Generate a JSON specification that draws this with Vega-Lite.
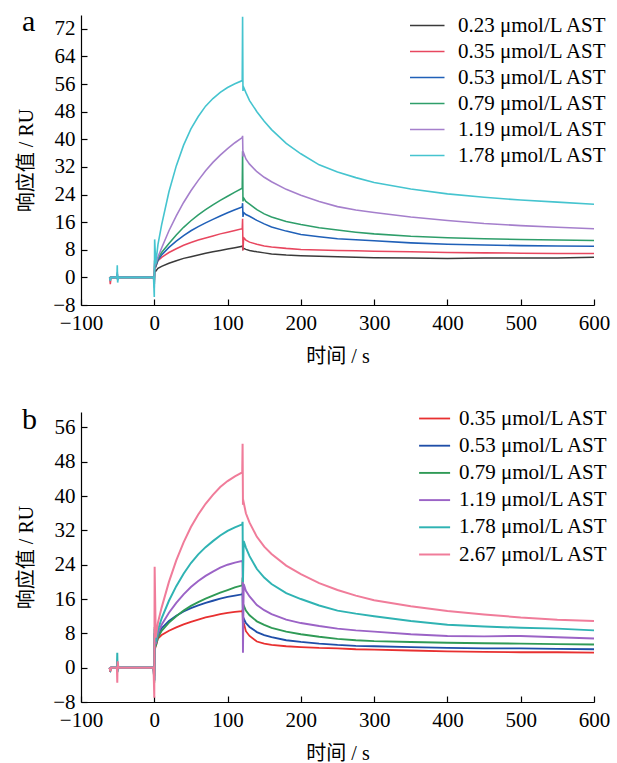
{
  "$schema": "https://vega.github.io/schema/vega-lite/v6.json",
  "autosize": {"type": "pad"},
  "padding": {"left": 16, "top": 6, "right": 5, "bottom": 5},
  "background": "white",
  "datasets": {
    "a": [
      {"c":"0.23","t":-61,"v":0},{"c":"0.23","t":-60,"v":0},{"c":"0.23","t":-59,"v":0},{"c":"0.23","t":-51,"v":0},{"c":"0.23","t":-50.5,"v":0.5},{"c":"0.23","t":-50,"v":-0.3},{"c":"0.23","t":-49,"v":0},{"c":"0.23","t":-1,"v":0},{"c":"0.23","t":0,"v":-1},{"c":"0.23","t":0.5,"v":2},
      {"c":"0.23","t":2,"v":1.8},{"c":"0.23","t":5,"v":2.6},{"c":"0.23","t":10,"v":3.2},{"c":"0.23","t":20,"v":4.1},{"c":"0.23","t":30,"v":4.8},{"c":"0.23","t":40,"v":5.5},{"c":"0.23","t":50,"v":6.0},{"c":"0.23","t":60,"v":6.5},{"c":"0.23","t":70,"v":7.0},{"c":"0.23","t":80,"v":7.4},{"c":"0.23","t":90,"v":7.8},{"c":"0.23","t":100,"v":8.2},{"c":"0.23","t":110,"v":8.6},{"c":"0.23","t":120,"v":9.0},{"c":"0.23","t":120.5,"v":9.3},{"c":"0.23","t":121,"v":8.2},
      {"c":"0.23","t":122,"v":8.4},{"c":"0.23","t":125,"v":8.1},{"c":"0.23","t":130,"v":7.8},{"c":"0.23","t":140,"v":7.4},{"c":"0.23","t":150,"v":7.1},{"c":"0.23","t":160,"v":6.8},{"c":"0.23","t":180,"v":6.5},{"c":"0.23","t":200,"v":6.3},{"c":"0.23","t":225,"v":6.1},{"c":"0.23","t":250,"v":6.0},{"c":"0.23","t":275,"v":5.8},{"c":"0.23","t":300,"v":5.7},{"c":"0.23","t":350,"v":5.6},{"c":"0.23","t":400,"v":5.5},{"c":"0.23","t":450,"v":5.6},{"c":"0.23","t":500,"v":5.6},{"c":"0.23","t":550,"v":5.6},{"c":"0.23","t":600,"v":5.8},

      {"c":"0.35","t":-61,"v":0},{"c":"0.35","t":-60,"v":-2},{"c":"0.35","t":-59,"v":0},{"c":"0.35","t":-51,"v":0},{"c":"0.35","t":-50.5,"v":0.5},{"c":"0.35","t":-50,"v":-0.5},{"c":"0.35","t":-49,"v":0},{"c":"0.35","t":-1,"v":0},{"c":"0.35","t":0,"v":-1.5},{"c":"0.35","t":0.5,"v":3},
      {"c":"0.35","t":2,"v":3},{"c":"0.35","t":5,"v":4.8},{"c":"0.35","t":10,"v":5.8},{"c":"0.35","t":20,"v":7.2},{"c":"0.35","t":30,"v":8.3},{"c":"0.35","t":40,"v":9.3},{"c":"0.35","t":50,"v":10.1},{"c":"0.35","t":60,"v":10.8},{"c":"0.35","t":70,"v":11.4},{"c":"0.35","t":80,"v":12},{"c":"0.35","t":90,"v":12.6},{"c":"0.35","t":100,"v":13.1},{"c":"0.35","t":110,"v":13.6},{"c":"0.35","t":120,"v":14.1},{"c":"0.35","t":120.5,"v":17},{"c":"0.35","t":121,"v":7.8},
      {"c":"0.35","t":122,"v":11.5},{"c":"0.35","t":125,"v":10.8},{"c":"0.35","t":130,"v":10.2},{"c":"0.35","t":140,"v":9.6},{"c":"0.35","t":150,"v":9.1},{"c":"0.35","t":160,"v":8.8},{"c":"0.35","t":180,"v":8.4},{"c":"0.35","t":200,"v":8.1},{"c":"0.35","t":225,"v":7.9},{"c":"0.35","t":250,"v":7.8},{"c":"0.35","t":275,"v":7.7},{"c":"0.35","t":300,"v":7.6},{"c":"0.35","t":350,"v":7.4},{"c":"0.35","t":400,"v":7.2},{"c":"0.35","t":450,"v":7.1},{"c":"0.35","t":500,"v":7.0},{"c":"0.35","t":550,"v":6.9},{"c":"0.35","t":600,"v":6.9},

      {"c":"0.53","t":-61,"v":0},{"c":"0.53","t":-60,"v":-0.5},{"c":"0.53","t":-59,"v":0},{"c":"0.53","t":-51,"v":0},{"c":"0.53","t":-50.5,"v":1},{"c":"0.53","t":-50,"v":-0.5},{"c":"0.53","t":-49,"v":0},{"c":"0.53","t":-1,"v":0},{"c":"0.53","t":0,"v":-2},{"c":"0.53","t":0.5,"v":3.5},
      {"c":"0.53","t":2,"v":3.2},{"c":"0.53","t":5,"v":5},{"c":"0.53","t":10,"v":6.5},{"c":"0.53","t":20,"v":8.7},{"c":"0.53","t":30,"v":10.5},{"c":"0.53","t":40,"v":12.1},{"c":"0.53","t":50,"v":13.5},{"c":"0.53","t":60,"v":14.7},{"c":"0.53","t":70,"v":15.8},{"c":"0.53","t":80,"v":16.8},{"c":"0.53","t":90,"v":17.8},{"c":"0.53","t":100,"v":18.7},{"c":"0.53","t":110,"v":19.6},{"c":"0.53","t":120,"v":20.4},{"c":"0.53","t":120.5,"v":21.5},{"c":"0.53","t":121,"v":17.5},
      {"c":"0.53","t":122,"v":18.8},{"c":"0.53","t":125,"v":18.2},{"c":"0.53","t":130,"v":17.7},{"c":"0.53","t":140,"v":16.5},{"c":"0.53","t":150,"v":15.5},{"c":"0.53","t":160,"v":14.6},{"c":"0.53","t":180,"v":13.4},{"c":"0.53","t":200,"v":12.4},{"c":"0.53","t":225,"v":11.8},{"c":"0.53","t":250,"v":11.2},{"c":"0.53","t":275,"v":10.9},{"c":"0.53","t":300,"v":10.6},{"c":"0.53","t":350,"v":10},{"c":"0.53","t":400,"v":9.6},{"c":"0.53","t":450,"v":9.4},{"c":"0.53","t":500,"v":9.2},{"c":"0.53","t":550,"v":9.1},{"c":"0.53","t":600,"v":9.0},

      {"c":"0.79","t":-61,"v":0},{"c":"0.79","t":-60,"v":-0.5},{"c":"0.79","t":-59,"v":0},{"c":"0.79","t":-51,"v":0},{"c":"0.79","t":-50.5,"v":1},{"c":"0.79","t":-50,"v":-0.5},{"c":"0.79","t":-49,"v":0},{"c":"0.79","t":-1,"v":0},{"c":"0.79","t":0,"v":-2},{"c":"0.79","t":0.5,"v":4},
      {"c":"0.79","t":2,"v":3.5},{"c":"0.79","t":5,"v":5.5},{"c":"0.79","t":10,"v":7.2},{"c":"0.79","t":20,"v":9.8},{"c":"0.79","t":30,"v":12.3},{"c":"0.79","t":40,"v":14.5},{"c":"0.79","t":50,"v":16.4},{"c":"0.79","t":60,"v":18.1},{"c":"0.79","t":70,"v":19.6},{"c":"0.79","t":80,"v":21},{"c":"0.79","t":90,"v":22.3},{"c":"0.79","t":100,"v":23.5},{"c":"0.79","t":110,"v":24.7},{"c":"0.79","t":120,"v":25.8},{"c":"0.79","t":120.5,"v":36.5},{"c":"0.79","t":121,"v":22},
      {"c":"0.79","t":122,"v":23},{"c":"0.79","t":125,"v":22},{"c":"0.79","t":130,"v":21.2},{"c":"0.79","t":140,"v":19.6},{"c":"0.79","t":150,"v":18.4},{"c":"0.79","t":160,"v":17.5},{"c":"0.79","t":180,"v":16.2},{"c":"0.79","t":200,"v":15.3},{"c":"0.79","t":225,"v":14.4},{"c":"0.79","t":250,"v":13.7},{"c":"0.79","t":275,"v":13.1},{"c":"0.79","t":300,"v":12.6},{"c":"0.79","t":350,"v":11.9},{"c":"0.79","t":400,"v":11.5},{"c":"0.79","t":450,"v":11.2},{"c":"0.79","t":500,"v":11},{"c":"0.79","t":550,"v":10.8},{"c":"0.79","t":600,"v":10.7},

      {"c":"1.19","t":-61,"v":0},{"c":"1.19","t":-60,"v":-0.5},{"c":"1.19","t":-59,"v":0},{"c":"1.19","t":-51,"v":0},{"c":"1.19","t":-50.5,"v":1.5},{"c":"1.19","t":-50,"v":-0.8},{"c":"1.19","t":-49,"v":0},{"c":"1.19","t":-1,"v":0},{"c":"1.19","t":0,"v":-3},{"c":"1.19","t":0.5,"v":5},
      {"c":"1.19","t":2,"v":4},{"c":"1.19","t":5,"v":5.9},{"c":"1.19","t":10,"v":8.5},{"c":"1.19","t":20,"v":13.5},{"c":"1.19","t":30,"v":17.8},{"c":"1.19","t":40,"v":21.7},{"c":"1.19","t":50,"v":25.1},{"c":"1.19","t":60,"v":28.1},{"c":"1.19","t":70,"v":30.9},{"c":"1.19","t":80,"v":33.3},{"c":"1.19","t":90,"v":35.4},{"c":"1.19","t":100,"v":37.3},{"c":"1.19","t":110,"v":39},{"c":"1.19","t":120,"v":40.5},{"c":"1.19","t":120.5,"v":41},{"c":"1.19","t":121,"v":35},
      {"c":"1.19","t":122,"v":36},{"c":"1.19","t":125,"v":34.3},{"c":"1.19","t":130,"v":32.8},{"c":"1.19","t":140,"v":30.6},{"c":"1.19","t":150,"v":29},{"c":"1.19","t":160,"v":27.7},{"c":"1.19","t":180,"v":25.5},{"c":"1.19","t":200,"v":23.8},{"c":"1.19","t":225,"v":22},{"c":"1.19","t":250,"v":20.5},{"c":"1.19","t":275,"v":19.5},{"c":"1.19","t":300,"v":18.8},{"c":"1.19","t":350,"v":17.5},{"c":"1.19","t":400,"v":16.5},{"c":"1.19","t":450,"v":15.6},{"c":"1.19","t":500,"v":15},{"c":"1.19","t":550,"v":14.5},{"c":"1.19","t":600,"v":14.1},

      {"c":"1.78","t":-61,"v":0},{"c":"1.78","t":-60,"v":-1},{"c":"1.78","t":-59,"v":0},{"c":"1.78","t":-51,"v":0},{"c":"1.78","t":-50.5,"v":3.5},{"c":"1.78","t":-50,"v":-1.5},{"c":"1.78","t":-49,"v":0},{"c":"1.78","t":-1,"v":0},{"c":"1.78","t":0,"v":-5.7},{"c":"1.78","t":0.5,"v":11},
      {"c":"1.78","t":2,"v":4},{"c":"1.78","t":5,"v":9.5},{"c":"1.78","t":10,"v":15.2},{"c":"1.78","t":20,"v":24.8},{"c":"1.78","t":30,"v":32.3},{"c":"1.78","t":40,"v":38.3},{"c":"1.78","t":50,"v":43},{"c":"1.78","t":60,"v":46.6},{"c":"1.78","t":70,"v":49.6},{"c":"1.78","t":80,"v":51.8},{"c":"1.78","t":90,"v":53.6},{"c":"1.78","t":100,"v":55},{"c":"1.78","t":110,"v":56.1},{"c":"1.78","t":120,"v":57},{"c":"1.78","t":120.5,"v":75.5},{"c":"1.78","t":121,"v":54},
      {"c":"1.78","t":122,"v":55},{"c":"1.78","t":125,"v":53.5},{"c":"1.78","t":130,"v":51.2},{"c":"1.78","t":140,"v":48},{"c":"1.78","t":150,"v":45.2},{"c":"1.78","t":160,"v":42.8},{"c":"1.78","t":180,"v":38.8},{"c":"1.78","t":200,"v":35.8},{"c":"1.78","t":225,"v":32.6},{"c":"1.78","t":250,"v":30.5},{"c":"1.78","t":275,"v":28.9},{"c":"1.78","t":300,"v":27.5},{"c":"1.78","t":350,"v":25.6},{"c":"1.78","t":400,"v":24.2},{"c":"1.78","t":450,"v":23.2},{"c":"1.78","t":500,"v":22.4},{"c":"1.78","t":550,"v":21.8},{"c":"1.78","t":600,"v":21.2}
    ],
    "b": [
      {"c":"0.35","t":-61,"v":0},{"c":"0.35","t":-60,"v":-1},{"c":"0.35","t":-59,"v":0},{"c":"0.35","t":-51,"v":0},{"c":"0.35","t":-50.5,"v":0.5},{"c":"0.35","t":-50,"v":-0.5},{"c":"0.35","t":-49,"v":0},{"c":"0.35","t":-1,"v":0},{"c":"0.35","t":0,"v":-2},{"c":"0.35","t":0.5,"v":6},
      {"c":"0.35","t":2,"v":5},{"c":"0.35","t":5,"v":6.8},{"c":"0.35","t":10,"v":7.6},{"c":"0.35","t":20,"v":8.6},{"c":"0.35","t":30,"v":9.4},{"c":"0.35","t":40,"v":10.1},{"c":"0.35","t":50,"v":10.7},{"c":"0.35","t":60,"v":11.2},{"c":"0.35","t":70,"v":11.7},{"c":"0.35","t":80,"v":12.1},{"c":"0.35","t":90,"v":12.5},{"c":"0.35","t":100,"v":12.8},{"c":"0.35","t":110,"v":13.0},{"c":"0.35","t":120,"v":13.2},{"c":"0.35","t":120.5,"v":13.5},{"c":"0.35","t":121,"v":9.5},
      {"c":"0.35","t":122,"v":10.5},{"c":"0.35","t":125,"v":8.5},{"c":"0.35","t":130,"v":7.4},{"c":"0.35","t":140,"v":6.1},{"c":"0.35","t":150,"v":5.6},{"c":"0.35","t":160,"v":5.3},{"c":"0.35","t":180,"v":5.0},{"c":"0.35","t":200,"v":4.8},{"c":"0.35","t":225,"v":4.6},{"c":"0.35","t":250,"v":4.5},{"c":"0.35","t":275,"v":4.3},{"c":"0.35","t":300,"v":4.2},{"c":"0.35","t":350,"v":4.0},{"c":"0.35","t":400,"v":3.8},{"c":"0.35","t":450,"v":3.7},{"c":"0.35","t":500,"v":3.6},{"c":"0.35","t":550,"v":3.6},{"c":"0.35","t":600,"v":3.5},

      {"c":"0.53","t":-61,"v":0},{"c":"0.53","t":-60,"v":-0.5},{"c":"0.53","t":-59,"v":0},{"c":"0.53","t":-51,"v":0},{"c":"0.53","t":-50.5,"v":1},{"c":"0.53","t":-50,"v":-0.5},{"c":"0.53","t":-49,"v":0},{"c":"0.53","t":-1,"v":0},{"c":"0.53","t":0,"v":-3},{"c":"0.53","t":0.5,"v":8},
      {"c":"0.53","t":2,"v":5.5},{"c":"0.53","t":5,"v":7.8},{"c":"0.53","t":10,"v":9.2},{"c":"0.53","t":20,"v":10.9},{"c":"0.53","t":30,"v":12.1},{"c":"0.53","t":40,"v":13.1},{"c":"0.53","t":50,"v":13.9},{"c":"0.53","t":60,"v":14.5},{"c":"0.53","t":70,"v":15.1},{"c":"0.53","t":80,"v":15.6},{"c":"0.53","t":90,"v":16.1},{"c":"0.53","t":100,"v":16.5},{"c":"0.53","t":110,"v":16.8},{"c":"0.53","t":120,"v":17.1},{"c":"0.53","t":120.5,"v":17.5},{"c":"0.53","t":121,"v":10},
      {"c":"0.53","t":122,"v":11.5},{"c":"0.53","t":125,"v":10.4},{"c":"0.53","t":130,"v":9.5},{"c":"0.53","t":140,"v":8.3},{"c":"0.53","t":150,"v":7.6},{"c":"0.53","t":160,"v":7.1},{"c":"0.53","t":180,"v":6.4},{"c":"0.53","t":200,"v":6},{"c":"0.53","t":225,"v":5.6},{"c":"0.53","t":250,"v":5.3},{"c":"0.53","t":275,"v":5.1},{"c":"0.53","t":300,"v":5},{"c":"0.53","t":350,"v":4.8},{"c":"0.53","t":400,"v":4.6},{"c":"0.53","t":450,"v":4.5},{"c":"0.53","t":500,"v":4.5},{"c":"0.53","t":550,"v":4.4},{"c":"0.53","t":600,"v":4.3},

      {"c":"0.79","t":-61,"v":0},{"c":"0.79","t":-60,"v":-0.5},{"c":"0.79","t":-59,"v":0},{"c":"0.79","t":-51,"v":0},{"c":"0.79","t":-50.5,"v":1.5},{"c":"0.79","t":-50,"v":-0.5},{"c":"0.79","t":-49,"v":0},{"c":"0.79","t":-1,"v":0},{"c":"0.79","t":0,"v":-3.5},{"c":"0.79","t":0.5,"v":9.5},
      {"c":"0.79","t":2,"v":5},{"c":"0.79","t":5,"v":7},{"c":"0.79","t":10,"v":8.6},{"c":"0.79","t":20,"v":10.5},{"c":"0.79","t":30,"v":12},{"c":"0.79","t":40,"v":13.3},{"c":"0.79","t":50,"v":14.4},{"c":"0.79","t":60,"v":15.3},{"c":"0.79","t":70,"v":16.1},{"c":"0.79","t":80,"v":16.8},{"c":"0.79","t":90,"v":17.5},{"c":"0.79","t":100,"v":18.1},{"c":"0.79","t":110,"v":18.7},{"c":"0.79","t":120,"v":19.2},{"c":"0.79","t":120.5,"v":21},{"c":"0.79","t":121,"v":13},
      {"c":"0.79","t":122,"v":14.5},{"c":"0.79","t":125,"v":13.3},{"c":"0.79","t":130,"v":12.2},{"c":"0.79","t":140,"v":10.8},{"c":"0.79","t":150,"v":10},{"c":"0.79","t":160,"v":9.3},{"c":"0.79","t":180,"v":8.4},{"c":"0.79","t":200,"v":7.8},{"c":"0.79","t":225,"v":7.2},{"c":"0.79","t":250,"v":6.7},{"c":"0.79","t":275,"v":6.4},{"c":"0.79","t":300,"v":6.2},{"c":"0.79","t":350,"v":6},{"c":"0.79","t":400,"v":5.8},{"c":"0.79","t":450,"v":5.7},{"c":"0.79","t":500,"v":5.6},{"c":"0.79","t":550,"v":5.5},{"c":"0.79","t":600,"v":5.4},

      {"c":"1.19","t":-61,"v":0},{"c":"1.19","t":-60,"v":-0.5},{"c":"1.19","t":-59,"v":0},{"c":"1.19","t":-51,"v":0},{"c":"1.19","t":-50.5,"v":1},{"c":"1.19","t":-50,"v":-0.5},{"c":"1.19","t":-49,"v":0},{"c":"1.19","t":-1,"v":0},{"c":"1.19","t":0,"v":-3},{"c":"1.19","t":0.5,"v":8},
      {"c":"1.19","t":2,"v":5.5},{"c":"1.19","t":5,"v":8},{"c":"1.19","t":10,"v":10},{"c":"1.19","t":20,"v":12.8},{"c":"1.19","t":30,"v":15.1},{"c":"1.19","t":40,"v":17.1},{"c":"1.19","t":50,"v":18.8},{"c":"1.19","t":60,"v":20.2},{"c":"1.19","t":70,"v":21.4},{"c":"1.19","t":80,"v":22.4},{"c":"1.19","t":90,"v":23.3},{"c":"1.19","t":100,"v":24},{"c":"1.19","t":110,"v":24.5},{"c":"1.19","t":120,"v":24.9},{"c":"1.19","t":120.5,"v":25},{"c":"1.19","t":121,"v":3.5},
      {"c":"1.19","t":122,"v":19.5},{"c":"1.19","t":125,"v":17.9},{"c":"1.19","t":130,"v":16.6},{"c":"1.19","t":140,"v":14.6},{"c":"1.19","t":150,"v":13.4},{"c":"1.19","t":160,"v":12.5},{"c":"1.19","t":180,"v":11.2},{"c":"1.19","t":200,"v":10.4},{"c":"1.19","t":225,"v":9.7},{"c":"1.19","t":250,"v":9.1},{"c":"1.19","t":275,"v":8.7},{"c":"1.19","t":300,"v":8.4},{"c":"1.19","t":350,"v":7.8},{"c":"1.19","t":400,"v":7.4},{"c":"1.19","t":450,"v":7.3},{"c":"1.19","t":500,"v":7.4},{"c":"1.19","t":550,"v":7.1},{"c":"1.19","t":600,"v":6.8},

      {"c":"1.78","t":-61,"v":0},{"c":"1.78","t":-60,"v":-0.5},{"c":"1.78","t":-59,"v":0},{"c":"1.78","t":-51,"v":0},{"c":"1.78","t":-50.5,"v":3.5},{"c":"1.78","t":-50,"v":-1},{"c":"1.78","t":-49,"v":0},{"c":"1.78","t":-1,"v":0},{"c":"1.78","t":0,"v":-3},{"c":"1.78","t":0.5,"v":9},
      {"c":"1.78","t":2,"v":6},{"c":"1.78","t":5,"v":8.8},{"c":"1.78","t":10,"v":11.5},{"c":"1.78","t":20,"v":15.6},{"c":"1.78","t":30,"v":19},{"c":"1.78","t":40,"v":21.9},{"c":"1.78","t":50,"v":24.4},{"c":"1.78","t":60,"v":26.4},{"c":"1.78","t":70,"v":28.1},{"c":"1.78","t":80,"v":29.5},{"c":"1.78","t":90,"v":30.8},{"c":"1.78","t":100,"v":31.9},{"c":"1.78","t":110,"v":32.7},{"c":"1.78","t":120,"v":33.4},{"c":"1.78","t":120.5,"v":34},{"c":"1.78","t":121,"v":20},
      {"c":"1.78","t":122,"v":29.5},{"c":"1.78","t":125,"v":28},{"c":"1.78","t":130,"v":26},{"c":"1.78","t":140,"v":23},{"c":"1.78","t":150,"v":21},{"c":"1.78","t":160,"v":19.5},{"c":"1.78","t":180,"v":17.4},{"c":"1.78","t":200,"v":16},{"c":"1.78","t":225,"v":14.5},{"c":"1.78","t":250,"v":13.3},{"c":"1.78","t":275,"v":12.6},{"c":"1.78","t":300,"v":12},{"c":"1.78","t":350,"v":10.9},{"c":"1.78","t":400,"v":10},{"c":"1.78","t":450,"v":9.6},{"c":"1.78","t":500,"v":9.3},{"c":"1.78","t":550,"v":9.1},{"c":"1.78","t":600,"v":8.7},

      {"c":"2.67","t":-61,"v":0},{"c":"2.67","t":-60,"v":-0.8},{"c":"2.67","t":-59,"v":0},{"c":"2.67","t":-51,"v":0},{"c":"2.67","t":-50.5,"v":-3.5},{"c":"2.67","t":-50,"v":1.5},{"c":"2.67","t":-49,"v":0},{"c":"2.67","t":-1,"v":0},{"c":"2.67","t":0,"v":-7},{"c":"2.67","t":0.5,"v":23.5},
      {"c":"2.67","t":2,"v":7},{"c":"2.67","t":5,"v":10.5},{"c":"2.67","t":10,"v":14},{"c":"2.67","t":20,"v":20},{"c":"2.67","t":30,"v":25},{"c":"2.67","t":40,"v":29.2},{"c":"2.67","t":50,"v":32.8},{"c":"2.67","t":60,"v":35.7},{"c":"2.67","t":70,"v":38.2},{"c":"2.67","t":80,"v":40.3},{"c":"2.67","t":90,"v":42.1},{"c":"2.67","t":100,"v":43.5},{"c":"2.67","t":110,"v":44.6},{"c":"2.67","t":120,"v":45.5},{"c":"2.67","t":120.5,"v":52.2},{"c":"2.67","t":121,"v":38},
      {"c":"2.67","t":122,"v":38.5},{"c":"2.67","t":125,"v":36},{"c":"2.67","t":130,"v":33.8},{"c":"2.67","t":140,"v":30.5},{"c":"2.67","t":150,"v":28.2},{"c":"2.67","t":160,"v":26.5},{"c":"2.67","t":180,"v":23.8},{"c":"2.67","t":200,"v":21.8},{"c":"2.67","t":225,"v":19.7},{"c":"2.67","t":250,"v":18.1},{"c":"2.67","t":275,"v":16.8},{"c":"2.67","t":300,"v":15.7},{"c":"2.67","t":350,"v":14.3},{"c":"2.67","t":400,"v":13.2},{"c":"2.67","t":450,"v":12.4},{"c":"2.67","t":500,"v":11.7},{"c":"2.67","t":550,"v":11.2},{"c":"2.67","t":600,"v":10.9}
    ]
  },
  "vconcat": [
    {
      "width": 513,
      "height": 290,
      "title": {"text": "a", "anchor": "start", "frame": "group", "orient": "top", "dx": -59, "dy": 47, "offset": 0, "baseline": "alphabetic", "fontSize": 30, "font": "Liberation Serif", "fontWeight": "normal", "color": "#000"},
      "data": {"name": "a"},
      "mark": {"type": "line", "clip": false},
      "encoding": {
        "x": {"field": "t", "type": "quantitative", "scale": {"domain": [-100, 600], "nice": false, "zero": false}, "axis": {"values": [-100, 0, 100, 200, 300, 400, 500, 600], "title": "时间 / s"}},
        "y": {"field": "v", "type": "quantitative", "scale": {"domain": [-8, 76], "nice": false, "zero": false}, "axis": {"values": [-8, 0, 8, 16, 24, 32, 40, 48, 56, 64, 72], "title": "响应值 / RU"}},
        "color": {"field": "c", "type": "nominal", "scale": {"domain": ["0.23", "0.35", "0.53", "0.79", "1.19", "1.78"], "range": ["#3a3a3a", "#e8475f", "#2060b8", "#2e9e6a", "#a57fcc", "#45c4cf"]}, "legend": {"orient": "none", "legendX": 348, "legendY": 0, "rowPadding": 4, "labelExpr": "datum.label + ' μmol/L AST'", "symbolType": "M-5.9,0H1"}},
        "strokeWidth": {"field": "c", "type": "nominal", "scale": {"domain": ["0.23", "0.35", "0.53", "0.79", "1.19", "1.78"], "range": [1.5, 1.6, 1.8, 1.6, 1.5, 2.4]}, "legend": null}
      }
    },
    {
      "width": 513,
      "height": 290,
      "title": {"text": "b", "anchor": "start", "frame": "group", "orient": "top", "dx": -59, "dy": 51, "offset": 0, "baseline": "alphabetic", "fontSize": 30, "font": "Liberation Serif", "fontWeight": "normal", "color": "#000"},
      "data": {"name": "b"},
      "mark": {"type": "line", "clip": false},
      "encoding": {
        "x": {"field": "t", "type": "quantitative", "scale": {"domain": [-100, 600], "nice": false, "zero": false}, "axis": {"values": [-100, 0, 100, 200, 300, 400, 500, 600], "title": "时间 / s"}},
        "y": {"field": "v", "type": "quantitative", "scale": {"domain": [-8, 59.6], "nice": false, "zero": false}, "axis": {"values": [-8, 0, 8, 16, 24, 32, 40, 48, 56], "title": "响应值 / RU"}},
        "color": {"field": "c", "type": "nominal", "scale": {"domain": ["0.35", "0.53", "0.79", "1.19", "1.78", "2.67"], "range": ["#e83030", "#1f4ea8", "#2f9a56", "#9b63c6", "#2fb3b3", "#f07c9a"]}, "legend": {"orient": "none", "legendX": 349, "legendY": -4, "rowPadding": 5.2, "labelExpr": "datum.label + ' μmol/L AST'", "symbolType": "M-4.28,0H1.92", "symbolStrokeWidth": 2}},
        "strokeWidth": {"field": "c", "type": "nominal", "scale": {"domain": ["0.35", "0.53", "0.79", "1.19", "1.78", "2.67"], "range": [1.8, 2, 1.5, 1.3, 2.4, 1.1]}, "legend": null}
      }
    }
  ],
  "spacing": 107,
  "bounds": "flush",
  "resolve": {"scale": {"color": "independent", "strokeWidth": "independent"}, "legend": {"color": "independent"}},
  "config": {
    "font": "Liberation Serif",
    "view": {"stroke": null},
    "axis": {
      "grid": false,
      "domainColor": "#000",
      "domainWidth": 1.2,
      "tickColor": "#000",
      "tickWidth": 1.2,
      "tickSize": -6,
      "labelColor": "#000",
      "labelFont": "Liberation Serif",
      "labelFontSize": 21,
      "labelOverlap": false,
      "labelFlush": false,
      "titleColor": "#000",
      "titleFont": "Liberation Serif, Noto Sans CJK SC",
      "titleFontSize": 20,
      "titleFontWeight": "normal"
    },
    "axisX": {"titlePadding": 13, "labelPadding": 13},
    "axisY": {"titlePadding": 16, "labelPadding": 12},
    "legend": {
      "symbolSize": 100,
      "symbolStrokeWidth": 1.6,
      "labelFont": "Liberation Serif",
      "labelFontSize": 21,
      "labelColor": "#000",
      "labelOffset": 8,
      "padding": 0,
      "title": null
    }
  }
}
